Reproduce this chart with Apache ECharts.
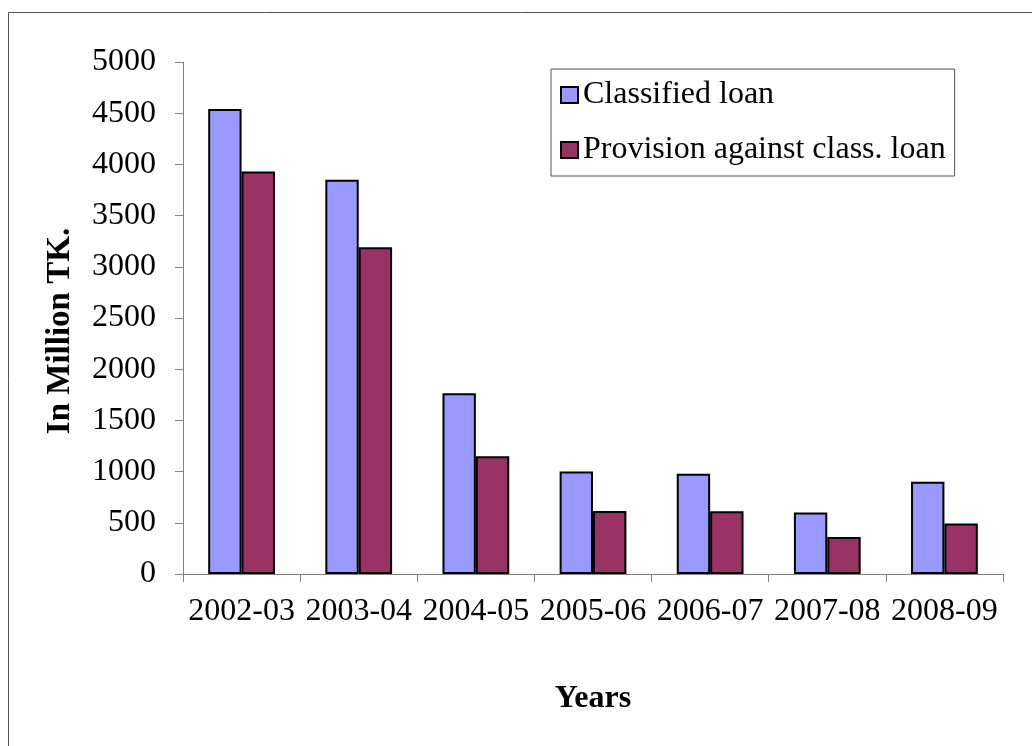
<!DOCTYPE html>
<html>
<head>
<meta charset="utf-8">
<script src="https://cdn.jsdelivr.net/npm/echarts@6/dist/echarts.min.js"></script>
<style>
  html, body { margin: 0; padding: 0; background: #fff; }
  #chart { width: 1032px; height: 746px; }
</style>
</head>
<body>
<div id="chart"></div>
<script>
var years = ['2002-03', '2003-04', '2004-05', '2005-06', '2006-07', '2007-08', '2008-09'];
var classifiedLoan = [4540, 3850, 1765, 1000, 980, 600, 900];
var provisionLoan = [3930, 3190, 1150, 615, 612, 362, 492];
var yTicks = { min: 0, max: 5000, interval: 500 };

var serif = 'Liberation Serif';
var chart = echarts.init(document.getElementById('chart'));

chart.setOption({
    animation: false,
    textStyle: { fontFamily: serif, color: '#000' },
    grid: { left: 183, right: 29, top: 62, bottom: 172 },
    // frame of the chart area (only top and left edges fall inside the image)
    graphic: [{
        type: 'rect',
        shape: { x: 8.5, y: 12.5, width: 1100, height: 900 },
        style: { fill: 'none', stroke: '#555', lineWidth: 1 },
        silent: true
    }],
    legend: {
        orient: 'vertical',
        left: 551,
        top: 69,
        padding: [10, 9, 10, 9],
        itemGap: 23,
        itemWidth: 17,
        itemHeight: 16,
        icon: 'rect',
        borderColor: '#555',
        borderWidth: 1,
        textStyle: { fontFamily: serif, fontSize: 32, color: '#000' },
        data: ['Classified loan', 'Provision against class. loan']
    },
    xAxis: {
        type: 'category',
        data: years,
        name: 'Years',
        nameLocation: 'middle',
        nameGap: 109,
        nameTextStyle: { fontFamily: serif, fontSize: 32, fontWeight: 'bold', color: '#000' },
        axisLine: { lineStyle: { color: '#808080', width: 1 } },
        axisTick: { show: true, length: 8, lineStyle: { color: '#808080' } },
        axisLabel: { interval: 0, fontFamily: serif, fontSize: 32, color: '#000', margin: 22 }
    },
    yAxis: {
        type: 'value',
        min: yTicks.min,
        max: yTicks.max,
        interval: yTicks.interval,
        name: 'In Million TK.',
        nameLocation: 'middle',
        nameGap: 106,
        nameTextStyle: {
            fontFamily: serif, fontSize: 33, fontWeight: 'bold', color: '#000',
            padding: [0, 26, 0, 0]
        },
        axisLine: { show: true, lineStyle: { color: '#808080', width: 1 } },
        axisTick: { show: true, length: 8, lineStyle: { color: '#808080' } },
        splitLine: { show: false },
        axisLabel: {
            fontFamily: serif, fontSize: 32, color: '#000', margin: 27,
            formatter: function (v) { return String(v); }
        }
    },
    series: [{
        name: 'Classified loan',
        type: 'bar',
        data: classifiedLoan,
        barGap: '0%',
        barCategoryGap: '43%',
        itemStyle: { color: '#9999FF', borderColor: '#000', borderWidth: 2 }
    }, {
        name: 'Provision against class. loan',
        type: 'bar',
        data: provisionLoan,
        itemStyle: { color: '#993366', borderColor: '#000', borderWidth: 2 }
    }]
});
</script>
</body>
</html>
